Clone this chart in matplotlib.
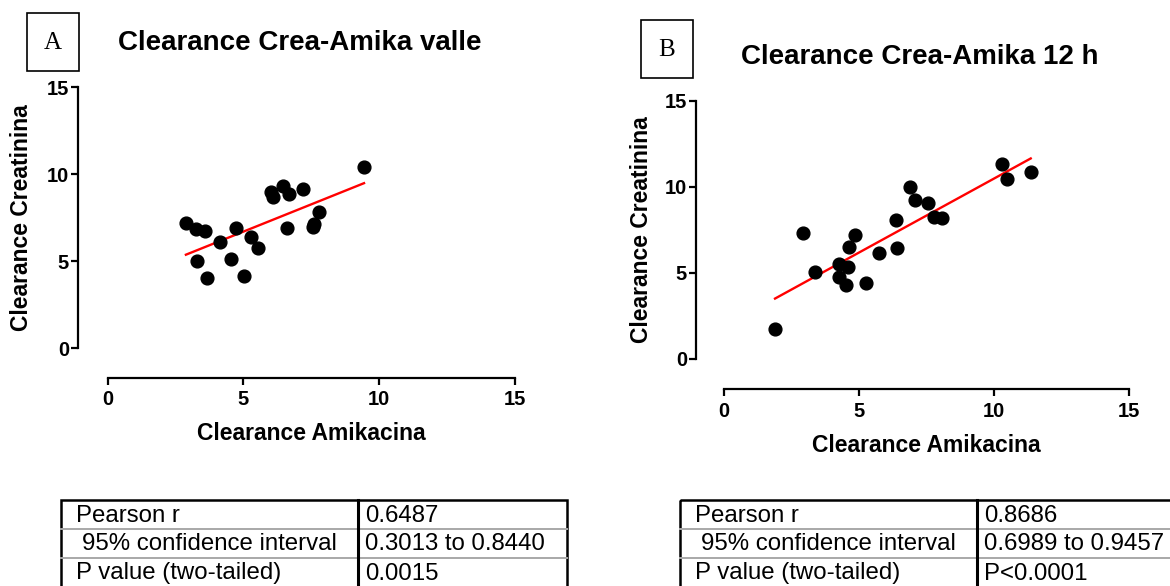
import numpy as np
import matplotlib
matplotlib.use('Agg')
import matplotlib.pyplot as plt
from matplotlib.patches import Rectangle

plt.rcParams['font.family'] = ['Liberation Sans', 'DejaVu Sans']

# values
amik_valle = [2.88, 3.24, 3.59, 4.73, 4.14, 5.27, 5.52, 3.30, 4.55, 3.65, 5.02,
              6.00, 6.10, 6.45, 6.69, 7.20, 6.62, 7.79, 7.61, 7.57, 9.44]
crea_valle = [7.22, 6.84, 6.76, 6.93, 6.13, 6.41, 5.75, 5.00, 5.11, 4.02, 4.16,
              8.97, 8.71, 9.33, 8.87, 9.16, 6.90, 7.85, 7.14, 6.95, 10.40]
amik_12h = [1.89, 2.94, 3.37, 4.27, 4.60, 4.26, 4.52, 5.26, 4.64, 4.86, 5.75,
            6.36, 6.41, 6.89, 7.06, 7.56, 7.78, 8.07, 10.30, 10.49, 11.36]
crea_12h = [1.73, 7.29, 5.06, 5.51, 5.31, 4.73, 4.27, 4.42, 6.51, 7.21, 6.16,
            8.05, 6.42, 9.97, 9.23, 9.05, 8.22, 8.20, 11.32, 10.43, 10.85]

ticks = [0, 5, 10, 15]
titles = ['Clearance Crea-Amika valle', 'Clearance Crea-Amika 12 h']
letters = ['A', 'B']
xlabel = 'Clearance Amikacina'
ylabel = 'Clearance Creatinina'
stat_names = ['Pearson r', '95% confidence interval', 'P value (two-tailed)']
stats_valle = ['0.6487', '0.3013 to 0.8440', '0.0015']
stats_12h = ['0.8686', '0.6989 to 0.9457', 'P<0.0001']

W, H = 1170, 586


def px_rect(x0, y0, x1, y1):
    # pixel box -> figure fraction [left, bottom, width, height]
    return [x0 / W, 1 - y1 / H, (x1 - x0) / W, (y1 - y0) / H]


fig = plt.figure(figsize=(W / 100, H / 100), dpi=100)

# overlay in pixel units for boxes, titles and tables
ov = fig.add_axes([0, 0, 1, 1])
ov.set_xlim(0, W)
ov.set_ylim(H, 0)
ov.axis('off')
ov.patch.set_visible(False)


def draw_panel(ax, x, y, left_off, bottom_off, xlab_y, ylab_x):
    ax.plot(x, y, 'o', color='black', markersize=9.2, clip_on=False, zorder=3)
    slope, icpt = np.polyfit(x, y, 1)
    xs = np.array([min(x), max(x)])
    ax.plot(xs, slope * xs + icpt, color='red', lw=1.7, zorder=2)
    ax.set_xlim(0, 15)
    ax.set_ylim(0, 15)
    ax.set_xticks(ticks)
    ax.set_yticks(ticks)
    ax.spines['top'].set_visible(False)
    ax.spines['right'].set_visible(False)
    ax.spines['left'].set_position(('outward', left_off))
    ax.spines['bottom'].set_position(('outward', bottom_off))
    for s in ['left', 'bottom']:
        ax.spines[s].set_linewidth(1.6)
    ax.tick_params(axis='both', width=1.6, direction='out', labelsize=14.5)
    ax.tick_params(axis='x', length=5, pad=4)
    ax.tick_params(axis='y', length=5, pad=1.5)
    for lab in ax.get_xticklabels() + ax.get_yticklabels():
        lab.set_fontweight('bold')
    ax.set_xlabel(xlabel, fontsize=16.5, fontweight='bold', va='center')
    ax.set_ylabel(ylabel, fontsize=16.5, fontweight='bold', va='center')
    ax.xaxis.set_label_coords(0.5, xlab_y)
    ax.yaxis.set_label_coords(ylab_x, 0.5)
    ax.patch.set_visible(False)


axA = fig.add_axes(px_rect(107.7, 87.3, 515, 348.3))
draw_panel(axA, amik_valle, crea_valle, 21.4, 21.2,
           (348.3 - 433) / 261, (21 - 107.7) / 407.3)

axB = fig.add_axes(px_rect(724, 100.7, 1129, 358.7))
draw_panel(axB, amik_12h, crea_12h, 20.2, 22.0,
           (358.7 - 445) / 258, (641.7 - 724) / 405)

# panel letters in boxes
for (bx, by), letter in zip([(27, 13), (641, 20)], letters):
    ov.add_patch(Rectangle((bx, by), 52, 58, fill=False, ec='black', lw=1.2))
    ov.text(bx + 26, by + 30, letter, fontsize=18, family='Liberation Serif',
            ha='center', va='center')

ov.text(118, 43, titles[0], fontsize=20, fontweight='bold', ha='left', va='center')
ov.text(741, 57, titles[1], fontsize=20, fontweight='bold', ha='left', va='center')


def draw_table(x0, values):
    top, rh, col, width = 500, 29, 297, 506
    for i in (1, 2):
        ov.plot([x0, x0 + width], [top + i * rh] * 2, color='#a8a8a8', lw=1.4)
    ov.add_patch(Rectangle((x0, top), width, 3 * rh, fill=False, ec='black', lw=1.8))
    ov.plot([x0 + col] * 2, [top, top + 3 * rh], color='black', lw=2.2)
    for i, (name, val) in enumerate(zip(stat_names, values)):
        yc = top + i * rh + rh / 2 + 1
        indent = 21 if i == 1 else 15
        ov.text(x0 + indent, yc, name, fontsize=17.3, ha='left', va='center')
        ov.text(x0 + col + 7, yc, val, fontsize=17.3, ha='left', va='center')


draw_table(61, stats_valle)
draw_table(680, stats_12h)

fig.savefig('out.png', dpi=100)
